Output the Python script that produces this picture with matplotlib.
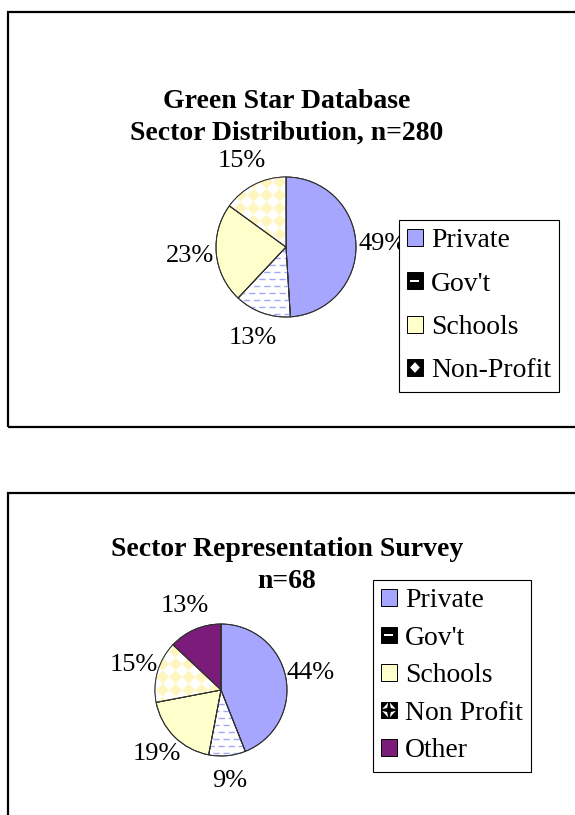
import numpy as np
import matplotlib
matplotlib.use("Agg")
import matplotlib.pyplot as plt
from matplotlib.colors import to_rgb
from matplotlib.patches import Patch, Rectangle, Polygon, Wedge
from matplotlib.legend_handler import HandlerBase

W, H, DPI = 575, 815, 100

# Green Star database, n=280
db_title = ["Green Star Database", "Sector Distribution, n=280"]
db_sectors = ["Private", "Gov't", "Schools", "Non-Profit"]
db_share = [49, 13, 23, 15]

# sector representation survey, n=68
survey_title = ["Sector Representation Survey", "n=68"]
survey_sectors = ["Private", "Gov't", "Schools", "Non Profit", "Other"]
survey_share = [44, 9, 19, 15, 13]

PRIVATE = "#A6A6FF"
SCHOOLS = "#FFFFCC"
OTHER = "#7B1C7B"
DASH = "#A3A9F5"
CHECK = "#FFF6BE"
EDGE = "#303030"

# slice face, slice texture, legend swatch face, legend swatch mark
FILLS = {
    "Private": (PRIVATE, None, PRIVATE, None),
    "Gov't": ("white", "dash", "black", "dash"),
    "Schools": (SCHOOLS, None, SCHOOLS, None),
    "Non-Profit": ("white", "check", "black", "diamond"),
    "Non Profit": ("white", "check", "black", "bowtie"),
    "Other": (OTHER, None, OTHER, None),
}

plt.rcParams["font.family"] = ["Liberation Serif", "DejaVu Serif"]

fig = plt.figure(figsize=(W / DPI, H / DPI), dpi=DPI)


def fx(x):
    return x / W


def fy(y):
    return 1 - y / H


def frame(x0, y0, x1, y1):
    fig.add_artist(Rectangle((fx(x0), fy(y1)), fx(x1) - fx(x0), fy(y0) - fy(y1),
                             transform=fig.transFigure, fill=False,
                             edgecolor="black", linewidth=1.6))


def title(lines, y0, gap=31):
    for i, line in enumerate(lines):
        fig.text(fx(287), fy(y0 + i * gap), line, ha="center", va="center",
                 fontsize=20, fontweight="bold")


def dash_texture(ax, wedge, r):
    step = 7.0 / r
    for i, y in enumerate(np.arange(-1 + step / 2, 1, step)):
        ln, = ax.plot([-1.05, 1.05], [y, y], color=DASH, lw=1.0,
                      ls=(3.5 * (i % 2), (4.5, 2.8)), zorder=1.5)
        ln.set_clip_path(wedge)


def check_texture(ax, wedge, r):
    n = int(6 * r)
    u = np.linspace(-r, r, n)
    X, Y = np.meshgrid(u, u)
    s = 13.0
    cells = (np.floor((X + Y) / s) + np.floor((X - Y) / s)) % 2
    rgb = np.where(cells[..., None] == 0, np.array(to_rgb(CHECK)), np.ones(3))
    im = ax.imshow(rgb, extent=(-1, 1, -1, 1), origin="lower",
                   interpolation="bilinear", zorder=1.5)
    im.set_clip_path(wedge)


def draw_pie(cx, cy, r, sectors, shares):
    ax = fig.add_axes([fx(cx - r), fy(cy + r), 2 * r / W, 2 * r / H])
    faces = [FILLS[s][0] for s in sectors]
    wedges, _, _ = ax.pie(shares, colors=faces, startangle=90, counterclock=False,
                          autopct=lambda p: f"{p:.0f}%", pctdistance=1.38,
                          wedgeprops=dict(edgecolor=EDGE, linewidth=0.7, clip_on=False),
                          textprops=dict(fontsize=19))
    for w, s in zip(wedges, sectors):
        kind = FILLS[s][1]
        if kind == "dash":
            dash_texture(ax, w, r)
        elif kind == "check":
            check_texture(ax, w, r)
    # outlines again on top of the textures
    for w in wedges:
        ax.add_patch(Wedge(w.center, w.r, w.theta1, w.theta2, fill=False,
                           edgecolor=EDGE, linewidth=0.7, zorder=2, clip_on=False))
    ax.set_xlim(-1, 1)
    ax.set_ylim(-1, 1)
    ax.set_axis_off()
    return ax


class SectorSwatch(HandlerBase):
    def create_artists(self, legend, orig_handle, xdescent, ydescent,
                       width, height, fontsize, trans):
        x0, y0 = -xdescent, -ydescent
        w, h = width, height
        arts = [Rectangle((x0, y0), w, h, facecolor=orig_handle.get_facecolor(),
                          edgecolor="black", linewidth=0.7, transform=trans)]
        mark = orig_handle.get_gid()
        if mark == "dash":
            arts.append(Rectangle((x0 + 0.18 * w, y0 + 0.42 * h), 0.6 * w, 0.14 * h,
                                  facecolor="white", lw=0, transform=trans))
        elif mark == "diamond":
            cx, cy = x0 + w / 2, y0 + h / 2
            arts.append(Polygon([(cx - 0.32 * w, cy), (cx, cy + 0.32 * h),
                                 (cx + 0.32 * w, cy), (cx, cy - 0.32 * h)],
                                facecolor="white", lw=0, transform=trans))
        elif mark == "bowtie":
            cx, cy = x0 + w / 2, y0 + h / 2
            for sx in (-1, 1):
                for sy in (-1, 1):
                    arts.append(Polygon([(cx + sx * 0.12 * w, cy + sy * 0.12 * h),
                                         (cx + sx * 0.45 * w, cy + sy * 0.05 * h),
                                         (cx + sx * 0.05 * w, cy + sy * 0.45 * h)],
                                        facecolor="white", lw=0, transform=trans))
        return arts


def draw_legend(x, y, sectors, spacing):
    handles = [Patch(facecolor=FILLS[s][2], gid=FILLS[s][3]) for s in sectors]
    leg = fig.legend(handles, sectors, loc="upper left",
                     bbox_to_anchor=(fx(x), fy(y)), bbox_transform=fig.transFigure,
                     borderaxespad=0, fancybox=False, framealpha=1, edgecolor="black",
                     fontsize=20, handlelength=0.55, handleheight=0.55,
                     handletextpad=0.3, labelspacing=spacing, borderpad=0.3,
                     handler_map={Patch: SectorSwatch()})
    leg.get_frame().set_linewidth(0.8)
    return leg


# top panel
frame(8, 12, 640, 427)
title(db_title, 102)
draw_pie(286, 247, 70, db_sectors, db_share)
draw_legend(399, 220, db_sectors, 0.66)

# bottom panel
frame(8, 493, 640, 900)
title(survey_title, 550)
draw_pie(221, 690, 66, survey_sectors, survey_share)
draw_legend(373, 580, survey_sectors, 0.45)

fig.savefig("out.png", dpi=DPI)
